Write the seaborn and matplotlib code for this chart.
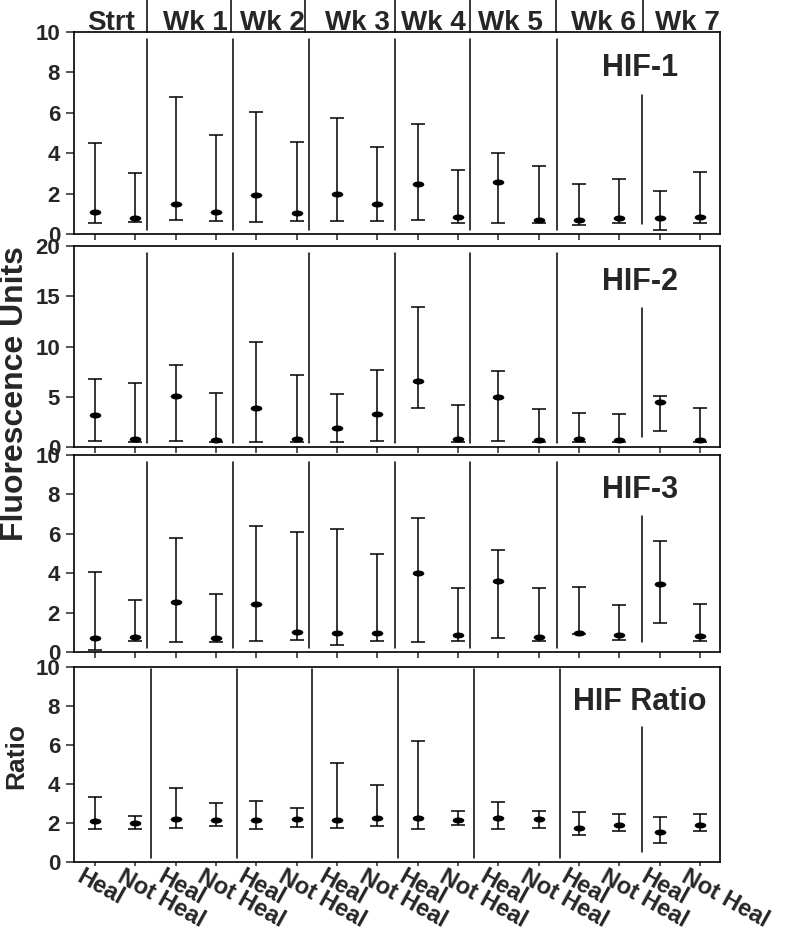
import numpy as np
import pandas as pd
import matplotlib
matplotlib.use('Agg')
import matplotlib.pyplot as plt
import matplotlib.transforms as mtransforms
from matplotlib.path import Path
import seaborn as sns

# ---- data ----
weeks = ['Strt', 'Wk 1', 'Wk 2', 'Wk 3', 'Wk 4', 'Wk 5', 'Wk 6', 'Wk 7']
groups = ['Heal', 'Not Heal']

hif1_mean = [1.07, 0.78, 1.49, 1.09, 1.95, 1.05, 2.00, 1.47, 2.48, 0.84, 2.59, 0.71, 0.68, 0.78, 0.78, 0.86]
hif1_low = [0.56, 0.59, 0.68, 0.64, 0.61, 0.63, 0.64, 0.64, 0.68, 0.56, 0.56, 0.56, 0.46, 0.53, 0.18, 0.53]
hif1_high = [4.49, 3.00, 6.77, 4.92, 6.04, 4.57, 5.73, 4.31, 5.43, 3.15, 4.00, 3.38, 2.48, 2.71, 2.14, 3.08]

hif2_mean = [3.20, 0.77, 5.10, 0.73, 3.87, 0.80, 1.87, 3.27, 6.60, 0.77, 5.00, 0.73, 0.80, 0.73, 4.50, 0.73]
hif2_low = [0.60, 0.50, 0.57, 0.50, 0.53, 0.50, 0.50, 0.57, 3.93, 0.50, 0.60, 0.50, 0.50, 0.50, 1.63, 0.50]
hif2_high = [6.77, 6.40, 8.13, 5.33, 10.47, 7.20, 5.27, 7.70, 13.90, 4.17, 7.53, 3.83, 3.40, 3.27, 5.03, 3.93]

hif3_mean = [0.73, 0.78, 2.54, 0.73, 2.42, 1.03, 0.95, 0.95, 3.99, 0.88, 3.60, 0.76, 0.95, 0.86, 3.47, 0.83]
hif3_low = [0.12, 0.57, 0.51, 0.51, 0.56, 0.61, 0.36, 0.56, 0.49, 0.57, 0.71, 0.56, 0.90, 0.59, 1.47, 0.57]
hif3_high = [4.06, 2.64, 5.79, 2.94, 6.41, 6.08, 6.23, 4.96, 6.80, 3.25, 5.18, 3.27, 3.30, 2.40, 5.65, 2.44]

ratio_mean = [2.10, 1.98, 2.19, 2.17, 2.15, 2.22, 2.17, 2.26, 2.26, 2.15, 2.26, 2.19, 1.72, 1.88, 1.54, 1.88]
ratio_low = [1.68, 1.68, 1.76, 1.86, 1.68, 1.81, 1.76, 1.85, 1.71, 1.88, 1.69, 1.76, 1.40, 1.57, 0.97, 1.60]
ratio_high = [3.32, 2.34, 3.81, 3.04, 3.11, 2.75, 5.06, 3.93, 6.21, 2.63, 3.06, 2.63, 2.56, 2.46, 2.29, 2.44]

panel_names = ['HIF-1', 'HIF-2', 'HIF-3', 'HIF Ratio']
panel_ymax = [10, 20, 10, 10]

# build one long table
rows = []
series = [(hif1_mean, hif1_low, hif1_high), (hif2_mean, hif2_low, hif2_high),
          (hif3_mean, hif3_low, hif3_high), (ratio_mean, ratio_low, ratio_high)]
for name, (m, lo, hi) in zip(panel_names, series):
    for i in range(16):
        rows.append({'panel': name, 'pos': i + 1, 'week': weeks[i // 2],
                     'group': groups[i % 2], 'mean': m[i], 'low': lo[i], 'high': hi[i]})
df = pd.DataFrame(rows)

# separators between weeks (irregular in the original)
sep_x = [2.29, 4.42, 6.31, 8.44, 10.31, 12.46, 14.57]
sep_x_ratio = [2.39, 4.52, 6.38, 8.52, 10.40, 12.54, 14.57]
head_sep_x = [2.29, 4.37, 6.21, 8.44, 10.31, 12.44, 14.60]
head_x = [1.40, 3.48, 5.39, 7.50, 9.39, 11.30, 13.60, 15.70]

# ---- style ----
sns.set_style('ticks')
plt.rcParams['font.family'] = ['Liberation Sans', 'DejaVu Sans']
plt.rcParams['font.weight'] = 'bold'
plt.rcParams['axes.labelweight'] = 'bold'

# ellipse marker
circ = Path.unit_circle()
ell = Path(circ.vertices * np.array([1.0, 0.52]), circ.codes)

fig = plt.figure(figsize=(7.92, 9.30), dpi=100)
L, W = 74 / 792, 646 / 792
boxes = [(234, 32), (447, 246), (652, 455), (862, 667)]

axes = []
for k, name in enumerate(panel_names):
    b, t = boxes[k]
    ax = fig.add_axes([L, 1 - b / 930, W, (b - t) / 930])
    axes.append(ax)
    d = df[df['panel'] == name]

    ax.errorbar(d['pos'], d['mean'], yerr=[d['mean'] - d['low'], d['high'] - d['mean']],
                fmt='none', ecolor='black', elinewidth=1.1, capsize=5, capthick=1.1, zorder=2)
    sns.scatterplot(data=d, x='pos', y='mean', marker=ell, s=70, color='black',
                    edgecolor='black', linewidth=0, ax=ax, zorder=3, legend=False)

    xs = sep_x_ratio if k == 3 else sep_x
    top = 0.99 if k == 3 else 0.965
    for j, sx in enumerate(xs):
        if j < len(xs) - 1:
            ax.axvline(sx, ymin=0.02, ymax=top, color='black', lw=1.1)
        else:
            ax.axvline(sx, ymin=0.05, ymax=0.69, color='black', lw=1.1)

    ax.set_xlim(0.48, 16.5)
    ax.set_ylim(0, panel_ymax[k])
    step = 5 if panel_ymax[k] == 20 else 2
    ax.set_yticks(np.arange(0, panel_ymax[k] + 1, step))
    ax.set_xticks(range(1, 17))
    ax.tick_params(axis='y', labelsize=16, length=6, width=1.1, pad=4)
    ax.tick_params(axis='x', length=4, width=1.1)
    for sp in ax.spines.values():
        sp.set_visible(True)
        sp.set_linewidth(1.2)
        sp.set_color('black')
    ax.set_xlabel('')
    ax.set_ylabel('')
    ax.text(0.876, 0.82, name, transform=ax.transAxes, ha='center', va='center',
            fontsize=22, fontweight='bold')
    if k < 3:
        ax.set_xticklabels([])
    else:
        ax.tick_params(axis='x', length=3, pad=-1)
        ax.set_xticklabels([groups[i % 2] for i in range(16)], rotation=-29,
                           ha='left', va='top', rotation_mode='anchor', fontsize=17)
        shift = mtransforms.ScaledTranslation(-11 / 100, 0, fig.dpi_scale_trans)
        for lab in ax.get_xticklabels():
            lab.set_transform(lab.get_transform() + shift)

# week header row above the top panel
ax0 = axes[0]
for hx in head_sep_x:
    ax0.plot([hx, hx], [1.0, 1.16], transform=ax0.get_xaxis_transform(),
             color='black', lw=1.1, clip_on=False)
for hx, wk in zip(head_x, weeks):
    ax0.text(hx, 1.01, wk, transform=ax0.get_xaxis_transform(), ha='center',
             va='baseline', fontsize=20, fontweight='bold')

fig.text(15 / 792, 1 - 394 / 930, 'Fluorescence Units', rotation=90, ha='center',
         va='center', fontsize=23, fontweight='bold')
fig.text(16 / 792, 1 - 756 / 930, 'Ratio', rotation=90, ha='center',
         va='center', fontsize=19, fontweight='bold')

fig.savefig('out.png', dpi=100)
